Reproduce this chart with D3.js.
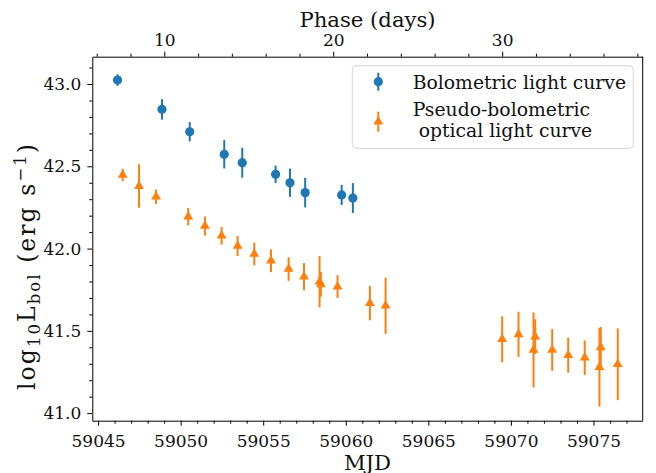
<!DOCTYPE html>
<html>
<head>
<meta charset="utf-8">
<script src="https://cdn.jsdelivr.net/npm/d3@7"></script>
<style>
  body { margin: 0; background: #fff; }
  svg { display: block; }
  text { font-family: "DejaVu Serif", serif; fill: #111; }
</style>
</head>
<body>
<div id="chart"></div>
<script>
// bolometric light curve (blue)
const bolMjd = [59046.18, 59048.87, 59050.55, 59052.64, 59053.73, 59055.75, 59056.62, 59057.54, 59059.75, 59060.43];
const bolLum = [43.024, 42.846, 42.710, 42.573, 42.522, 42.451, 42.400, 42.340, 42.326, 42.307];
const bolErr = [0.035, 0.062, 0.059, 0.086, 0.091, 0.053, 0.086, 0.090, 0.061, 0.091];

// pseudo-bolometric optical light curve (orange)
const optMjd = [59046.49, 59047.48, 59048.51, 59050.46, 59051.47, 59052.48, 59053.45, 59054.46, 59055.47, 59056.54,
                59057.47, 59058.41, 59058.49, 59059.50, 59061.46, 59062.41, 59069.47, 59070.46, 59071.47, 59071.37,
                59072.50, 59073.47, 59074.47, 59075.44, 59075.36, 59076.47];
const optLum = [42.447, 42.380, 42.315, 42.194, 42.137, 42.078, 42.016, 41.967, 41.926, 41.876,
                41.829, 41.799, 41.783, 41.769, 41.668, 41.653, 41.449, 41.479, 41.465, 41.384,
                41.384, 41.352, 41.337, 41.400, 41.279, 41.297];
const optErr = [0.038, 0.132, 0.044, 0.053, 0.058, 0.054, 0.061, 0.069, 0.069, 0.072,
                0.083, 0.156, 0.075, 0.069, 0.104, 0.171, 0.140, 0.137, 0.105, 0.228,
                0.127, 0.106, 0.105, 0.123, 0.239, 0.218];

const xTicks = [59045, 59050, 59055, 59060, 59065, 59070, 59075];
const yTicks = [41.0, 41.5, 42.0, 42.5, 43.0];
const phaseTicks = [10, 20, 30];
const legendLabels = ["Bolometric light curve", "Pseudo-bolometric", " optical light curve"];

// phase = (MJD - t0) / (1 + z)
const t0 = 59038.78;
const z = 0.023;

const W = 656, H = 473;
const margin = {top: 56.7, right: 13.3, bottom: 52.3, left: 92.3};
const blue = "#1f77b4", orange = "#ff7f0e";

const svg = d3.select("#chart").append("svg")
    .attr("width", W)
    .attr("height", H);

const xScale = d3.scaleLinear()
    .domain([59044.65, 59077.98])
    .range([margin.left, W - margin.right]);

const yScale = d3.scaleLinear()
    .domain([40.954, 43.166])
    .range([H - margin.bottom, margin.top]);

const toPhase = m => (m - t0) / (1 + z);
const phaseScale = d3.scaleLinear()
    .domain(xScale.domain().map(toPhase))
    .range(xScale.range());

// minor ticks
const xMinor = d3.range(59045, 59078, 1).filter(d => d % 5 !== 0);
const yMinor = d3.range(410, 432, 1).map(d => d / 10).filter(d => Math.round(d * 10) % 5 !== 0);
const phaseMinor = d3.range(6, 39, 2).filter(d => d % 10 !== 0);

const tickFont = "17px";
const labelFont = "21.2px";

// bottom axis
svg.append("g")
    .attr("transform", "translate(0," + (H - margin.bottom) + ")")
    .call(d3.axisBottom(xScale).tickValues(xMinor).tickSize(3).tickFormat(""))
    .call(g => g.select(".domain").remove());
svg.append("g")
    .attr("class", "axis")
    .attr("transform", "translate(0," + (H - margin.bottom) + ")")
    .call(d3.axisBottom(xScale).tickValues(xTicks).tickSize(5).tickPadding(5).tickSizeOuter(0).tickFormat(d3.format("d")))
    .call(g => g.selectAll("text").style("font-size", tickFont).attr("dy", "0.95em"));

// left axis
svg.append("g")
    .attr("transform", "translate(" + margin.left + ",0)")
    .call(d3.axisLeft(yScale).tickValues(yMinor).tickSize(3).tickFormat(""))
    .call(g => g.select(".domain").remove());
svg.append("g")
    .attr("transform", "translate(" + margin.left + ",0)")
    .call(d3.axisLeft(yScale).tickValues(yTicks).tickSize(5).tickPadding(6).tickSizeOuter(0).tickFormat(d3.format(".1f")))
    .call(g => g.selectAll("text").style("font-size", tickFont));

// top (phase) axis
svg.append("g")
    .attr("transform", "translate(0," + margin.top + ")")
    .call(d3.axisTop(phaseScale).tickValues(phaseMinor).tickSize(3).tickFormat(""))
    .call(g => g.select(".domain").remove());
svg.append("g")
    .attr("transform", "translate(0," + margin.top + ")")
    .call(d3.axisTop(phaseScale).tickValues(phaseTicks).tickSize(5).tickPadding(6).tickSizeOuter(0).tickFormat(d3.format("d")))
    .call(g => g.selectAll("text").style("font-size", tickFont));

// right spine
svg.append("line")
    .attr("x1", W - margin.right).attr("x2", W - margin.right)
    .attr("y1", margin.top).attr("y2", H - margin.bottom)
    .attr("stroke", "#000");

svg.selectAll(".domain, .tick line").attr("stroke", "#000").attr("stroke-width", 1);

// axis labels
svg.append("text")
    .attr("x", (margin.left + W - margin.right) / 2)
    .attr("y", 469.5)
    .attr("text-anchor", "middle")
    .style("font-size", labelFont)
    .text("MJD");

svg.append("text")
    .attr("x", (margin.left + W - margin.right) / 2)
    .attr("y", 26.5)
    .attr("text-anchor", "middle")
    .style("font-size", labelFont)
    .text("Phase (days)");

const ylab = svg.append("text")
    .attr("transform", "translate(35,267) rotate(-90)")
    .attr("text-anchor", "middle")
    .attr("textLength", 246)
    .attr("lengthAdjust", "spacing")
    .style("font-size", "23.5px");
ylab.append("tspan").text("log");
ylab.append("tspan").attr("dy", 5).style("font-size", "16.5px").text("10");
ylab.append("tspan").attr("dy", -5).text("L");
ylab.append("tspan").attr("dy", 5).style("font-size", "16.5px").text("bol");
ylab.append("tspan").attr("dy", -5).text(" (erg s");
ylab.append("tspan").attr("dy", -9).style("font-size", "16.5px").text("\u22121");
ylab.append("tspan").attr("dy", 9).text(")");

// data
const bol = bolMjd.map((d, i) => ({x: d, y: bolLum[i], e: bolErr[i]}));
const opt = optMjd.map((d, i) => ({x: d, y: optLum[i], e: optErr[i]}));

const plot = svg.append("g");

plot.selectAll(".ebBol")
    .data(bol)
    .enter().append("line")
    .attr("x1", d => xScale(d.x)).attr("x2", d => xScale(d.x))
    .attr("y1", d => yScale(d.y - d.e)).attr("y2", d => yScale(d.y + d.e))
    .attr("stroke", blue).attr("stroke-width", 2);

plot.selectAll(".ptBol")
    .data(bol)
    .enter().append("circle")
    .attr("cx", d => xScale(d.x))
    .attr("cy", d => yScale(d.y))
    .attr("r", 4.6)
    .attr("fill", blue);

plot.selectAll(".ebOpt")
    .data(opt)
    .enter().append("line")
    .attr("x1", d => xScale(d.x)).attr("x2", d => xScale(d.x))
    .attr("y1", d => yScale(d.y - d.e)).attr("y2", d => yScale(d.y + d.e))
    .attr("stroke", orange).attr("stroke-width", 2);

const tri = d3.symbol().type(d3.symbolTriangle).size(42);
plot.selectAll(".ptOpt")
    .data(opt)
    .enter().append("path")
    .attr("d", tri)
    .attr("transform", d => "translate(" + xScale(d.x) + "," + yScale(d.y) + ")")
    .attr("fill", orange);

// legend
const lg = svg.append("g");
lg.append("rect")
    .attr("x", 352.3).attr("y", 65.7)
    .attr("width", 281).attr("height", 82.6)
    .attr("rx", 4)
    .attr("fill", "#fff").attr("fill-opacity", 0.8)
    .attr("stroke", "#d6d6d6");

lg.append("line").attr("x1", 378.3).attr("x2", 378.3).attr("y1", 72.7).attr("y2", 90.7)
    .attr("stroke", blue).attr("stroke-width", 2);
lg.append("circle").attr("cx", 378.3).attr("cy", 81.7).attr("r", 4.6).attr("fill", blue);
lg.append("line").attr("x1", 378.3).attr("x2", 378.3).attr("y1", 111.7).attr("y2", 131.7)
    .attr("stroke", orange).attr("stroke-width", 2);
lg.append("path").attr("d", tri).attr("transform", "translate(378.3,121.7)").attr("fill", orange);

lg.append("text").attr("x", 412.7).attr("y", 88.5).style("font-size", "18.8px").text(legendLabels[0]);
lg.append("text").attr("x", 412.7).attr("y", 116).style("font-size", "18.8px").text(legendLabels[1]);
lg.append("text").attr("x", 412.7).attr("y", 137).style("font-size", "18.8px")
    .attr("xml:space", "preserve").style("white-space", "pre").text(legendLabels[2]);
</script>
</body>
</html>
